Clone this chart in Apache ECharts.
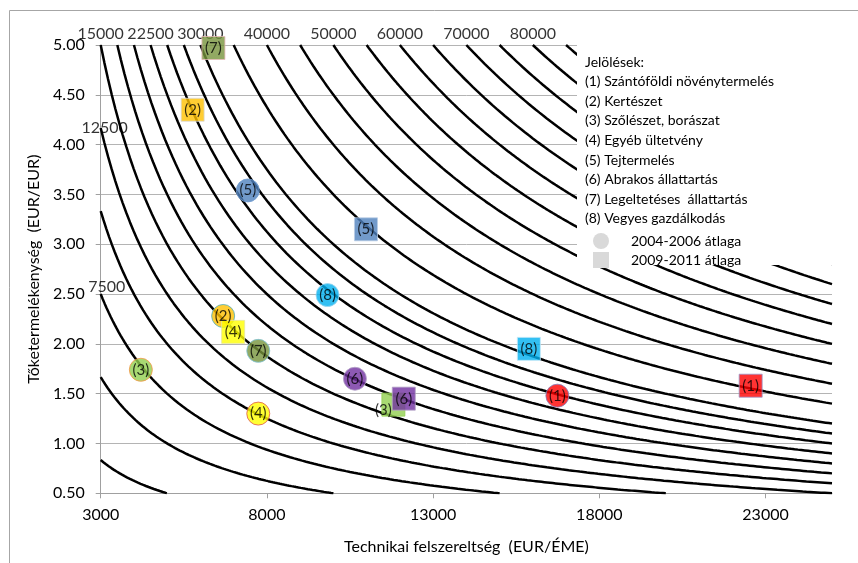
<!DOCTYPE html>
<html><head><meta charset="utf-8">
<script src="https://cdn.jsdelivr.net/npm/echarts@6/dist/echarts.min.js"></script>
<style>html,body{margin:0;padding:0;background:#fff}#c{width:858px;height:563px}</style>
</head><body><div id="c"></div>
<script>
// ---- data ----
const groupLabels = ['(1)','(2)','(3)','(4)','(5)','(6)','(7)','(8)'];
// 2004-2006 averages (circles)
const x0406 = [16738, 6684, 4208, 7740, 7426, 10648, 7740, 9824];
const y0406 = [1.48, 2.28, 1.74, 1.30, 3.54, 1.65, 1.93, 2.49];
// 2009-2011 averages (squares)
const x0911 = [22553, 5766, 11805, 6985, 10980, 12118, 6391, 15880];
const y0911 = [1.58, 4.35, 1.39, 2.12, 3.15, 1.45, 4.97, 1.95];
const fillColors = ['#FF0000','#FFC000','#92D050','#FFFF00','#4F81BD','#7030A0','#77933C','#00B0F0'];
const border0406 = ['#7F7FBF','#4BACC6','#F79646','#E0564D','#6F9BD1','#B3A2C7','#7FC4DA','#9FD6EF'];
const border0911 = ['#9999CC','#D9D9D9','#92D050','#E6E6A0','#B9CDE5','#B3A2C7','#E6B9B8','#C6E8F7'];
// iso-lines: technical equipment x capital productivity = constant
const isoLevels = [2500,5000,7500,10000,12500,15000,17500,20000,22500,25000,27500,30000,
  35000,40000,45000,50000,55000,60000,65000,70000,75000,80000,85000];
const isoLabelLevels = [7500,12500,15000,22500,30000,40000,50000,60000,70000,80000];
const xTicks = [3000, 8000, 13000, 18000, 23000];
const legendLines = ['Jelölések:','(1) Szántóföldi növénytermelés','(2) Kertészet','(3) Szőlészet, borászat',
  '(4) Egyéb ültetvény','(5) Tejtermelés','(6) Abrakos állattartás','(7) Legeltetéses  állattartás',
  '(8) Vegyes gazdálkodás'];
const periodLabels = ['2004-2006 átlaga','2009-2011 átlaga'];

const X_MIN = 3000, X_MAX = 25000, Y_MIN = 0.5, Y_MAX = 5;
const FONT = 'Lato, "Open Sans", sans-serif';

// ---- build series ----
const series = [];
isoLevels.forEach(c => {
  const xs = Math.max(X_MIN, c / Y_MAX), xe = Math.min(X_MAX, c / Y_MIN);
  const pts = [];
  const N = 200;
  for (let i = 0; i <= N; i++) {
    const x = xs + (xe - xs) * i / N;
    pts.push([x, c / x]);
  }
  series.push({
    type: 'line', data: pts, showSymbol: false, silent: true, smooth: false,
    lineStyle: { color: '#000', width: 2.5 }, z: 2, animation: false
  });
});
const labelOffsets = { 7500: [6, -7], 12500: [4, 0] };
series.push({
  type: 'scatter', silent: true, z: 3, animation: false,
  symbolSize: 1, itemStyle: { color: 'rgba(0,0,0,0)' },
  data: isoLabelLevels.map(c => {
    const x = Math.max(X_MIN, c / Y_MAX);
    const item = { value: [x, c / x], name: String(c) };
    if (labelOffsets[c]) {
      item.label = { position: 'inside', offset: labelOffsets[c] };
    }
    return item;
  }),
  label: { show: true, position: 'top', distance: 3, formatter: p => p.name,
    color: '#000', fontSize: 16, fontFamily: FONT }
});
function pointSeries(xs, ys, symbol, borders) {
  return {
    type: 'scatter', symbol: symbol, symbolSize: 23, z: 5, animation: false,
    data: xs.map((x, i) => {
      const item = { value: [x, ys[i]], name: groupLabels[i],
        itemStyle: { color: fillColors[i], borderColor: borders[i], borderWidth: 1 } };
      return item;
    }),
    label: { show: true, position: 'inside', formatter: p => p.name, color: '#000',
      fontSize: 15, fontFamily: FONT }
  };
}
series.push(pointSeries(x0406, y0406, 'circle', border0406));
const sq = pointSeries(x0911, y0911, 'rect', border0911);
sq.data[2].label = { offset: [-10, 6] };
series.push(sq);

// ---- legend graphic ----
const g = [];
g.push({ type: 'rect', z: 0, silent: true, shape: { x: 9.5, y: 10.5, width: 900, height: 600 },
  style: { fill: 'none', stroke: '#A6A6A6', lineWidth: 1 } });
g.push({ type: 'rect', z: 100, silent: true, shape: { x: 577, y: 42, width: 262, height: 223 },
  style: { fill: '#fff' } });
legendLines.forEach((t, i) => {
  g.push({ type: 'text', z: 101, silent: true, x: 585, y: 62 + i * 19.6,
    style: { text: t, fill: '#000', font: '14px ' + FONT, textVerticalAlign: 'middle' } });
});
g.push({ type: 'circle', z: 101, silent: true, shape: { cx: 601, cy: 241, r: 8 }, style: { fill: '#D9D9D9' } });
g.push({ type: 'rect', z: 101, silent: true, shape: { x: 593, y: 252, width: 16, height: 16 }, style: { fill: '#D9D9D9' } });
periodLabels.forEach((t, i) => {
  g.push({ type: 'text', z: 101, silent: true, x: 631, y: 241 + i * 19.5,
    style: { text: t, fill: '#000', font: '14px ' + FONT, textVerticalAlign: 'middle' } });
});

const option = {
  backgroundColor: '#fff',
  animation: false,
  grid: { left: 100.7, right: 26, top: 45, bottom: 69.7, containLabel: false },
  xAxis: {
    type: 'value', min: X_MIN, max: X_MAX,
    name: 'Technikai felszereltség  (EUR/ÉME)', nameLocation: 'middle', nameGap: 46,
    nameTextStyle: { color: '#000', fontSize: 16, fontFamily: FONT },
    axisLine: { show: true, lineStyle: { color: '#A0A0A0', width: 1 } },
    axisTick: { show: true, length: 5, lineStyle: { color: '#A0A0A0' }, customValues: xTicks },
    axisLabel: { color: '#000', fontSize: 16, fontFamily: FONT, margin: 14, customValues: xTicks,
      formatter: v => String(Math.round(v)) },
    splitLine: { show: false }
  },
  yAxis: {
    type: 'value', min: Y_MIN, max: Y_MAX, interval: 0.5,
    name: 'Tőketermelékenység  (EUR/EUR)', nameLocation: 'middle', nameGap: 58, nameRotate: 90,
    nameTextStyle: { color: '#000', fontSize: 16, fontFamily: FONT },
    axisLine: { show: true, lineStyle: { color: '#A0A0A0', width: 1 } },
    axisTick: { show: true, length: 5, lineStyle: { color: '#A0A0A0' } },
    axisLabel: { color: '#000', fontSize: 16, fontFamily: FONT, margin: 16, formatter: v => v.toFixed(2) },
    splitLine: { show: true, lineStyle: { color: '#B4B4B4', width: 1 } }
  },
  graphic: g,
  series: series
};
const chart = echarts.init(document.getElementById('c'), null, { renderer: 'canvas' });
chart.setOption(option);
</script></body></html>
